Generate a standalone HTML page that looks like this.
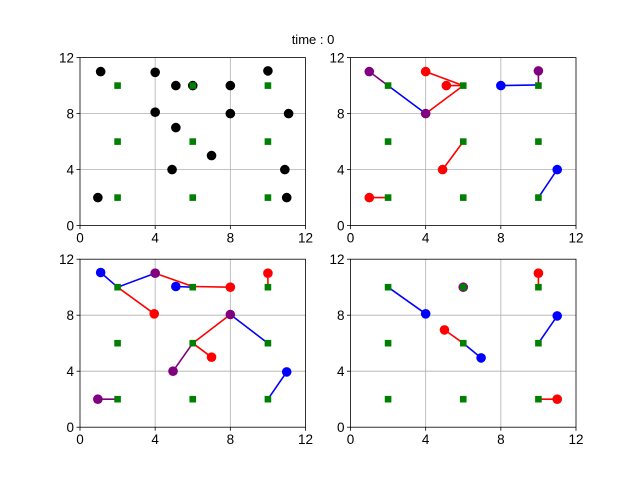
<!DOCTYPE html>
<html><head><meta charset="utf-8"><style>
html,body{margin:0;padding:0;background:#fff;}
svg{display:block;font-family:"Liberation Sans","DejaVu Sans",sans-serif;}
</style></head><body>
<svg id="fig" width="640" height="480" viewBox="0 0 640 480">
<rect width="640" height="480" fill="#fff"/>
<text x="313" y="44" font-size="13" text-anchor="middle">time : 0</text>
</svg>
<script>
const tickValues = [0, 4, 8, 12];
const targetsX = [2, 6, 10];
const targetsY = [2, 6, 10];
// panel points: [x, y, color]
const p1Points = [[1.1,11,'black'],[4,10.95,'black'],[10,11.05,'black'],[5.1,10,'black'],[6,10,'black'],[8,10,'black'],[4,8.1,'black'],[8,8,'black'],[11.1,8,'black'],[5.1,7,'black'],[7,5,'black'],[4.9,4,'black'],[10.9,4,'black'],[0.95,2,'black'],[11,2,'black']];
const p1Lines = [];
const p2Points = [[1,2,'red'],[4.9,4,'red'],[4,11,'red'],[5.1,10,'red'],[11,4,'blue'],[8,10,'blue'],[1,11,'purple'],[4,8,'purple'],[10,11.05,'purple']];
const p2Lines = [[1,2,2,2,'red'],[4.9,4,6,6,'red'],[11,4,10,2,'blue'],[1,11,2,10,'purple'],[2,10,4,8,'blue'],[4,8,6,10,'red'],[5.1,10,6,10,'red'],[4,11,6,10,'red'],[8,10,10,10.05,'blue'],[10,11.05,10,10,'purple']];
const p3Points = [[1.1,11.05,'blue'],[5.1,10.05,'blue'],[11,3.95,'blue'],[4,11,'purple'],[8,8.05,'purple'],[4.95,4,'purple'],[0.95,2,'purple'],[10,11,'red'],[8,10,'red'],[3.95,8.1,'red'],[7,5,'red']];
const p3Lines = [[1.1,11.05,2,10,'blue'],[2,10,4,11,'blue'],[4,11,6,10.05,'red'],[6,10.05,8,10,'red'],[2,10,3.95,8.1,'red'],[5.1,10.05,6,10,'blue'],[10,11,10,10,'red'],[6,6,8,8.05,'red'],[8,8.05,10,6,'blue'],[4.95,4,6,6,'purple'],[6,6,7,5,'red'],[11,3.95,10,2,'blue'],[0.95,2,2,2,'purple']];
const p4Points = [[6,10,'purple'],[10,11,'red'],[5,6.95,'red'],[11,2,'red'],[4,8.1,'blue'],[6.95,4.95,'blue'],[11,7.95,'blue']];
const p4Lines = [[2,10,4,8.1,'blue'],[5,6.95,6,6,'red'],[6,6,6.95,4.95,'blue'],[10,6,11,7.95,'blue'],[10,10,10,11,'red'],[10,2,11,2,'red']];

const NS='http://www.w3.org/2000/svg';
const svg=document.getElementById('fig');
const colors={red:'#ff0000',blue:'#0000ff',purple:'#800080',black:'#000000'};
function mk(tag,attrs,parent){const e=document.createElementNS(NS,tag);for(const k in attrs)e.setAttribute(k,attrs[k]);parent.appendChild(e);return e;}
const panels=[
 {x0:80,x1:305.5,y0:57.6,y1:225.6,pts:p1Points,lines:p1Lines,name:'panel-top-left'},
 {x0:350.5,x1:576,y0:57.6,y1:225.6,pts:p2Points,lines:p2Lines,name:'panel-top-right'},
 {x0:80,x1:305.5,y0:259.2,y1:427.2,pts:p3Points,lines:p3Lines,name:'panel-bottom-left'},
 {x0:350.5,x1:576,y0:259.2,y1:427.2,pts:p4Points,lines:p4Lines,name:'panel-bottom-right'}];
panels.forEach(p=>{
 const sx=v=>p.x0+(v/12)*(p.x1-p.x0);
 const sy=v=>p.y1-(v/12)*(p.y1-p.y0);
 const g=mk('g',{},svg);
 
 
 tickValues.forEach(t=>{
  if(t>0&&t<12){
   const gv=mk('line',{x1:sx(t),x2:sx(t),y1:p.y0,y2:p.y1,stroke:'#b0b0b0','stroke-width':0.8},g);
   
   
   const gh=mk('line',{x1:p.x0,x2:p.x1,y1:sy(t),y2:sy(t),stroke:'#b0b0b0','stroke-width':0.8},g);
   
   
  }
  mk('line',{x1:sx(t),x2:sx(t),y1:p.y1,y2:p.y1+3.5,stroke:'#000','stroke-width':0.8},g);
  mk('line',{x1:p.x0-3.5,x2:p.x0,y1:sy(t),y2:sy(t),stroke:'#000','stroke-width':0.8},g);
  const tx=mk('text',{x:sx(t),y:p.y1+17,'font-size':13.5,'text-anchor':'middle'},g);
  tx.textContent=t;
  
  
  const ty=mk('text',{x:p.x0-6,y:sy(t)+5,'font-size':13.5,'text-anchor':'end'},g);
  ty.textContent=t;
  
  
 });
 p.lines.forEach(l=>{
  const ln=mk('line',{x1:sx(l[0]),y1:sy(l[1]),x2:sx(l[2]),y2:sy(l[3]),stroke:colors[l[4]],'stroke-width':1.6},g);
  
  
 });
 p.pts.forEach(pt=>{
  const c=mk('circle',{cx:sx(pt[0]),cy:sy(pt[1]),r:4.8,fill:colors[pt[2]]},g);
  
  
 });
 targetsX.forEach(x=>targetsY.forEach(y=>{
  const s=mk('rect',{x:sx(x)-3.3,y:sy(y)-3.3,width:6.6,height:6.6,fill:'#008000'},g);
  
  
 }));
 mk('rect',{x:p.x0,y:p.y0,width:p.x1-p.x0,height:p.y1-p.y0,fill:'none',stroke:'#000','stroke-width':0.8},g);
});
</script>
</body></html>
